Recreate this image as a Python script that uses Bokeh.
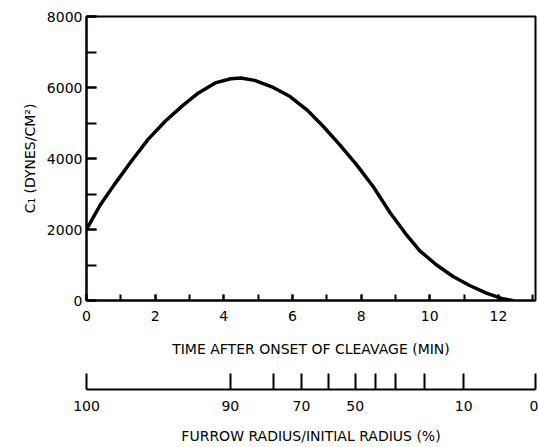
from bokeh.plotting import figure
from bokeh.models import Range1d, SingleIntervalTicker, FixedTicker, LinearAxis
from bokeh.layouts import column
from bokeh.embed import file_html
from bokeh.resources import INLINE

# Curve: C1 (dynes/cm^2) vs time after onset of cleavage (min)
time_min = [0, 0.4, 0.8, 1.3, 1.8, 2.3, 2.8, 3.25, 3.75, 4.2, 4.5, 4.9, 5.4,
            5.93, 6.42, 6.9, 7.38, 7.87, 8.35, 8.84, 9.33, 9.71, 10.19, 10.68,
            11.16, 11.65, 12.13, 12.4]
c1_values = [2000, 2690, 3250, 3915, 4545, 5055, 5490, 5840, 6130, 6245, 6270,
             6200, 6020, 5746, 5372, 4901, 4386, 3822, 3211, 2480, 1840, 1400,
             1006, 676, 423, 206, 48, 0]

# Secondary scale: furrow radius / initial radius (%) at given times
radius_labeled_time = [0, 4.19, 6.26, 7.83, 10.99, 13.07]
radius_labeled_pct = ["100", "90", "70", "50", "10", "0"]
radius_unlabeled_time = [5.44, 7.04, 8.43, 8.99, 9.85]

x_title = "TIME AFTER ONSET OF CLEAVAGE (MIN)"
y_title = "C\u2081 (DYNES/CM\u00b2)"
r_title = "FURROW RADIUS/INITIAL RADIUS (%)"

FONT = "DejaVu Sans"
xr = Range1d(0, 13.08)

p = figure(width=538, height=370, x_range=xr, y_range=Range1d(0, 8000),
           output_backend="svg", toolbar_location=None,
           min_border_left=86, min_border_right=3, min_border_top=16,
           min_border_bottom=70, background_fill_color="white",
           border_fill_color="white")
p.outline_line_color = "black"
p.outline_line_width = 2
p.grid.visible = False

p.line(time_min, c1_values, line_color="black", line_width=3.5,
       line_join="round", line_cap="round")

xa = p.xaxis[0]
xa.ticker = SingleIntervalTicker(interval=2, num_minor_ticks=2)
ya = p.yaxis[0]
ya.ticker = SingleIntervalTicker(interval=2000, num_minor_ticks=2)
for ax in (xa, ya):
    ax.axis_line_width = 2
    ax.major_tick_line_width = 2
    ax.minor_tick_line_width = 2
    ax.major_tick_out = 0
    ax.minor_tick_out = 0
    ax.major_label_text_font = FONT
    ax.major_label_text_font_size = "14px"
    ax.major_label_text_color = "black"
    ax.axis_label_text_font = FONT
    ax.axis_label_text_font_size = "14px"
    ax.axis_label_text_font_style = "normal"
    ax.axis_label_text_color = "black"
xa.major_tick_in = 6
xa.minor_tick_in = 6
xa.major_label_standoff = 10
xa.axis_label = x_title
xa.axis_label_standoff = 17
ya.major_tick_in = 10
ya.minor_tick_in = 10
ya.major_label_standoff = 4
ya.axis_label = y_title
ya.axis_label_standoff = 6

# Second figure carrying the furrow-radius scale
p2 = figure(width=538, height=77, x_range=xr, y_range=Range1d(0, 1),
            output_backend="svg", toolbar_location=None,
            x_axis_location=None, y_axis_location=None,
            min_border_left=86, min_border_right=3, min_border_top=0,
            min_border_bottom=58, background_fill_color="white",
            border_fill_color="white")
p2.outline_line_color = None
p2.grid.visible = False
ra = LinearAxis(ticker=FixedTicker(ticks=radius_labeled_time,
                                   minor_ticks=radius_unlabeled_time))
ra.major_label_overrides = {t: s for t, s in zip(radius_labeled_time, radius_labeled_pct)}
ra.axis_line_width = 2
ra.axis_line_color = "black"
ra.major_tick_line_width = 2
ra.minor_tick_line_width = 2
ra.major_tick_in = 16
ra.minor_tick_in = 16
ra.major_tick_out = 0
ra.minor_tick_out = 0
ra.major_label_text_font = FONT
ra.major_label_text_font_size = "14px"
ra.major_label_text_color = "black"
ra.major_label_standoff = 11
ra.axis_label = r_title
ra.axis_label_text_font = FONT
ra.axis_label_text_font_size = "14px"
ra.axis_label_text_font_style = "normal"
ra.axis_label_text_color = "black"
ra.axis_label_standoff = 14
p2.add_layout(ra, "below")

layout = column(p, p2, spacing=0)
open("out.html", "w").write(file_html(layout, INLINE))
